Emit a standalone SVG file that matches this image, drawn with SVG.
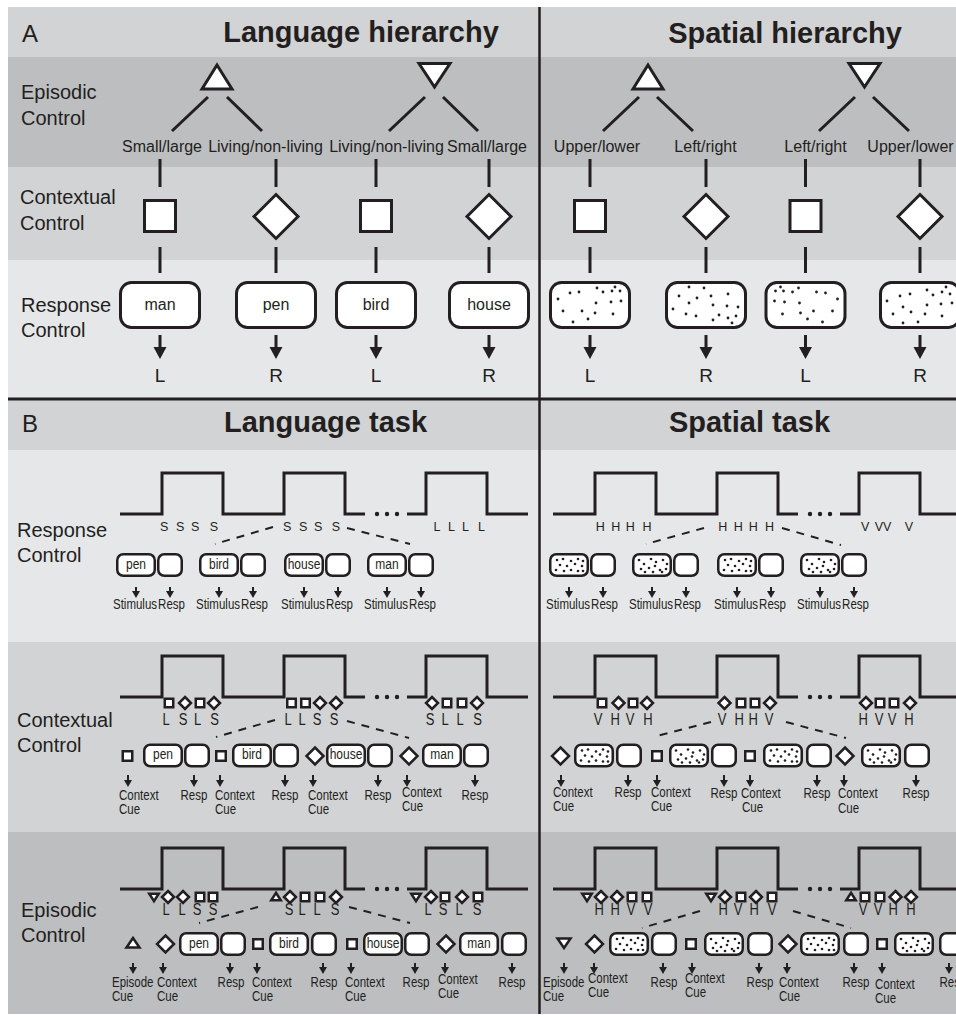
<svg xmlns="http://www.w3.org/2000/svg" width="956" height="1018" viewBox="0 0 956 1018">
<style>
.f{font-family:"Liberation Sans",Arial,Helvetica,sans-serif;fill:#231f20}
.ti{font-size:29px;font-weight:bold;text-anchor:middle}
.pl{font-size:24px}
.rl{font-size:20px}
.cat{font-size:16px;text-anchor:middle}
.lr{font-size:19px;text-anchor:middle}
.wl{font-size:12.5px;text-anchor:middle}
.cl{font-size:13px;text-anchor:middle}
.bt{font-size:12px;text-anchor:middle}
.sl{font-size:11.5px}
.slm{font-size:11.5px;text-anchor:middle}
.shp{fill:#fff;stroke:#231f20;stroke-width:3}
.bb{fill:#fff;stroke:#231f20;stroke-width:2.5}
.ln{fill:none;stroke:#231f20;stroke-width:3}
.as{fill:none;stroke:#231f20;stroke-width:2}
.ds{fill:none;stroke:#231f20;stroke-width:2;stroke-dasharray:8 7}
.dk{fill:#231f20}
.bL{fill:#e6e7e8}.bM{fill:#d1d3d4}.bD{fill:#bcbec0}
</style>
<defs>
<marker id="mL" markerUnits="userSpaceOnUse" markerWidth="12" markerHeight="13" refX="0" refY="6.5" orient="auto" overflow="visible"><path d="M0,0 L12,6.5 L0,13 Z" fill="#231f20"/></marker>
<marker id="mS" markerUnits="userSpaceOnUse" markerWidth="7" markerHeight="8" refX="0" refY="4" orient="auto" overflow="visible"><path d="M0,0 L7,4 L0,8 Z" fill="#231f20"/></marker>
<path id="diA" d="M0,-22 L22,0 L0,22 L-22,0 Z"/>
<rect id="sqA" x="-15.5" y="-15.5" width="31" height="31"/>
<rect id="boxA" x="-39.5" y="-22.5" width="79" height="45" rx="11"/>
<rect id="sqS" x="-4.25" y="-4.25" width="8.5" height="8.5"/>
<path id="diS" d="M0,-6 L6,0 L0,6 L-6,0 Z"/>
<path id="tdS" d="M-4.75,-3.2 L4.75,-3.2 L0,4.2 Z"/>
<path id="tuS" d="M0,-4.2 L4.75,3.2 L-4.75,3.2 Z"/>
<rect id="sqM" x="-4.75" y="-4.75" width="9.5" height="9.5"/>
<path id="diM" d="M0,-8.5 L8.5,0 L0,8.5 L-8.5,0 Z"/>
<path id="tuM" d="M0,-5 L6.5,4.5 L-6.5,4.5 Z"/>
<path id="tdM" d="M-6.5,-4.5 L6.5,-4.5 L0,5 Z"/>
<rect id="stB" x="1.25" y="1.25" width="37.5" height="21.5" rx="6"/>
<rect id="rsB" x="1.25" y="1.25" width="23.5" height="21.5" rx="6"/>
<g id="wave"><path class="ln" d="M0,41 H42 V0 H103 V41 H164 V0 H225 V41 H245 M287,41 H306 V0 H367 V41 H408"/><circle class="dk" cx="257" cy="41" r="2.2"/><circle class="dk" cx="267" cy="41" r="2.2"/><circle class="dk" cx="277" cy="41" r="2.2"/></g>
<g id="dA1" class="dk"><circle cx="66" cy="6" r="1.4"/><circle cx="48" cy="7" r="1.4"/><circle cx="54" cy="11" r="1.4"/><circle cx="63" cy="10" r="1.4"/><circle cx="71" cy="10" r="1.4"/><circle cx="21" cy="12" r="1.4"/><circle cx="30" cy="11" r="1.4"/><circle cx="9" cy="18" r="1.4"/><circle cx="47" cy="22" r="1.4"/><circle cx="62" cy="21" r="1.4"/><circle cx="72" cy="20" r="1.4"/><circle cx="14" cy="30" r="1.4"/><circle cx="33" cy="30" r="1.4"/><circle cx="46" cy="32" r="1.4"/><circle cx="64" cy="33" r="1.4"/><circle cx="24" cy="41" r="1.4"/><circle cx="39" cy="38" r="1.4"/></g>
<g id="dA2" class="dk"><circle cx="24" cy="6" r="1.4"/><circle cx="39" cy="7" r="1.4"/><circle cx="14" cy="15" r="1.4"/><circle cx="32" cy="17" r="1.4"/><circle cx="46" cy="15" r="1.4"/><circle cx="63" cy="13" r="1.4"/><circle cx="24" cy="22" r="1.4"/><circle cx="48" cy="24" r="1.4"/><circle cx="62" cy="25" r="1.4"/><circle cx="73" cy="26" r="1.4"/><circle cx="8" cy="28" r="1.4"/><circle cx="21" cy="33" r="1.4"/><circle cx="31" cy="35" r="1.4"/><circle cx="54" cy="34" r="1.4"/><circle cx="63" cy="37" r="1.4"/><circle cx="48" cy="39" r="1.4"/><circle cx="67" cy="42" r="1.4"/><circle cx="71" cy="35" r="1.4"/></g>
<g id="dB1" class="dk"><circle cx="8" cy="7" r="1.3"/><circle cx="14" cy="6" r="1.3"/><circle cx="22" cy="8" r="1.3"/><circle cx="29" cy="6" r="1.3"/><circle cx="34" cy="8" r="1.3"/><circle cx="11" cy="12" r="1.3"/><circle cx="18" cy="13" r="1.3"/><circle cx="26" cy="11" r="1.3"/><circle cx="33" cy="13" r="1.3"/><circle cx="7" cy="17" r="1.3"/><circle cx="15" cy="18" r="1.3"/><circle cx="22" cy="17" r="1.3"/><circle cx="29" cy="18" r="1.3"/><circle cx="34" cy="18" r="1.3"/></g>
<g id="dB2" class="dk"><circle cx="7" cy="7" r="1.3"/><circle cx="12" cy="11" r="1.3"/><circle cx="19" cy="6" r="1.3"/><circle cx="24" cy="9" r="1.3"/><circle cx="31" cy="7" r="1.3"/><circle cx="35" cy="11" r="1.3"/><circle cx="9" cy="16" r="1.3"/><circle cx="17" cy="15" r="1.3"/><circle cx="23" cy="13" r="1.3"/><circle cx="28" cy="17" r="1.3"/><circle cx="34" cy="16" r="1.3"/><circle cx="13" cy="19" r="1.3"/><circle cx="21" cy="19" r="1.3"/><circle cx="30" cy="19" r="1.3"/></g>
</defs>

<g id="background">
<rect x="8" y="7" width="948" height="50" class="bM"/>
<rect x="8" y="57" width="948" height="110" class="bD"/>
<rect x="8" y="167" width="948" height="93" class="bM"/>
<rect x="8" y="260" width="948" height="139" class="bL"/>
<rect x="8" y="399" width="948" height="51" class="bM"/>
<rect x="8" y="450" width="948" height="192" class="bL"/>
<rect x="8" y="642" width="948" height="190" class="bM"/>
<rect x="8" y="832" width="948" height="182" class="bD"/>
<line x1="8" y1="399" x2="956" y2="399" stroke="#231f20" stroke-width="3"/>
<line x1="539.5" y1="7" x2="539.5" y2="1014" stroke="#231f20" stroke-width="2.5"/>
</g>

<g id="labels">
<text class="f pl" x="22" y="42">A</text>
<text class="f ti" x="361" y="42">Language hierarchy</text>
<text class="f ti" x="785" y="43">Spatial hierarchy</text>
<text class="f pl" x="22" y="432">B</text>
<text class="f ti" x="325.5" y="432">Language task</text>
<text class="f ti" x="749.5" y="432">Spatial task</text>
<text class="f rl"><tspan x="21" y="99">Episodic</tspan><tspan x="21" y="125">Control</tspan></text>
<text class="f rl"><tspan x="20" y="204">Contextual</tspan><tspan x="20" y="230">Control</tspan></text>
<text class="f rl"><tspan x="21" y="312">Response</tspan><tspan x="21" y="337">Control</tspan></text>
<text class="f rl"><tspan x="17" y="537">Response</tspan><tspan x="17" y="562">Control</tspan></text>
<text class="f rl"><tspan x="17" y="727">Contextual</tspan><tspan x="17" y="752">Control</tspan></text>
<text class="f rl"><tspan x="21" y="917">Episodic</tspan><tspan x="21" y="942">Control</tspan></text>
</g>

<g id="A-connectors">
<path class="ln" d="M208,97 L172,131 M227,97 L262,131 M425,97 L389,131 M443,97 L478,131 M639,97 L603,131 M657,97 L693,131 M855,97 L819,131 M873,97 L909,131"/>
<path class="ln" d="M160,159 V187 M276,159 V187 M376,159 V187 M489,159 V187 M590,159 V187 M706,159 V187 M805.5,159 V187 M920,159 V187"/>
<path class="ln" d="M160,247 V273 M276,247 V273 M376,247 V273 M489,247 V273 M590,247 V273 M706,247 V273 M805.5,247 V273 M920,247 V273"/>
<path class="ln" d="M160,335 V347" marker-end="url(#mL)"/>
<path class="ln" d="M276,335 V347" marker-end="url(#mL)"/>
<path class="ln" d="M376,335 V347" marker-end="url(#mL)"/>
<path class="ln" d="M489,335 V347" marker-end="url(#mL)"/>
<path class="ln" d="M590,335 V347" marker-end="url(#mL)"/>
<path class="ln" d="M706,335 V347" marker-end="url(#mL)"/>
<path class="ln" d="M805.5,335 V347" marker-end="url(#mL)"/>
<path class="ln" d="M920,335 V347" marker-end="url(#mL)"/>
</g>

<g id="A-language">
<g id="A-lang-episode-up"><polygon class="shp" points="217,65 202,89 232,89"/></g>
<g id="A-lang-episode-down"><polygon class="shp" points="419,63.5 450,63.5 434.5,87"/></g>
<g id="A-lang-rules">
<text class="f cat" x="162" y="152">Small/large</text>
<text class="f cat" x="265.5" y="152">Living/non-living</text>
<text class="f cat" x="386.5" y="152">Living/non-living</text>
<text class="f cat" x="487" y="152">Small/large</text>
</g>
<g id="A-lang-ctx-1"><use href="#sqA" x="160" y="216" class="shp"/></g>
<g id="A-lang-ctx-2"><use href="#diA" x="276" y="216.5" class="shp"/></g>
<g id="A-lang-ctx-3"><use href="#sqA" x="376" y="216" class="shp"/></g>
<g id="A-lang-ctx-4"><use href="#diA" x="489" y="216.5" class="shp"/></g>
<g id="A-lang-man"><use href="#boxA" x="160" y="305" class="shp"/><text class="f cat" x="160" y="310">man</text></g>
<g id="A-lang-pen"><use href="#boxA" x="276" y="305" class="shp"/><text class="f cat" x="276" y="310">pen</text></g>
<g id="A-lang-bird"><use href="#boxA" x="376" y="305" class="shp"/><text class="f cat" x="376" y="310">bird</text></g>
<g id="A-lang-house"><use href="#boxA" x="489" y="305" class="shp"/><text class="f cat" x="489" y="310">house</text></g>
<g id="A-lang-resp">
<text class="f lr" x="160" y="382">L</text><text class="f lr" x="276" y="382">R</text><text class="f lr" x="376" y="382">L</text><text class="f lr" x="489" y="382">R</text>
</g>
</g>

<g id="A-spatial">
<g id="A-sp-episode-up"><polygon class="shp" points="648,65 633,89 663,89"/></g>
<g id="A-sp-episode-down"><polygon class="shp" points="849,63.5 880,63.5 864.5,87"/></g>
<g id="A-sp-rules">
<text class="f cat" x="597" y="152">Upper/lower</text>
<text class="f cat" x="705.5" y="152">Left/right</text>
<text class="f cat" x="815.5" y="152">Left/right</text>
<text class="f cat" x="910.5" y="152">Upper/lower</text>
</g>
<g id="A-sp-ctx-1"><use href="#sqA" x="590" y="216" class="shp"/></g>
<g id="A-sp-ctx-2"><use href="#diA" x="706" y="216.5" class="shp"/></g>
<g id="A-sp-ctx-3"><use href="#sqA" x="805.5" y="216" class="shp"/></g>
<g id="A-sp-ctx-4"><use href="#diA" x="920" y="216.5" class="shp"/></g>
<g id="A-sp-stim-1"><use href="#boxA" x="590" y="305" class="shp"/><use href="#dA1" x="549" y="281"/></g>
<g id="A-sp-stim-2"><use href="#boxA" x="706" y="305" class="shp"/><use href="#dA2" x="665" y="281"/></g>
<g id="A-sp-stim-3"><use href="#boxA" x="805.5" y="305" class="shp"/><use href="#dA1" transform="translate(846.5,281) scale(-1,1)"/></g>
<g id="A-sp-stim-4"><use href="#boxA" x="920" y="305" class="shp"/><use href="#dA2" transform="translate(879,329) scale(1,-1)"/></g>
<g id="A-sp-resp">
<text class="f lr" x="590" y="382">L</text><text class="f lr" x="706" y="382">R</text><text class="f lr" x="805.5" y="382">L</text><text class="f lr" x="920" y="382">R</text>
</g>
</g>

<g id="B-connectors">
<path class="ds" d="M273,527 L215,544 M347,528 L410,544 M704,528 L646,544 M782,528 L841,545"/>
<path class="ds" d="M275,720 L216,737 M347,721 L409,738 M711,722 L653,737 M786,722 L846,738"/>
<path class="ds" d="M258,907 L199,923 M349,907 L410,923 M700,911 L642,928 M793,911 L851,928"/>
<g id="B-resp-arrows">
<path class="as" d="M136,587 V591" marker-end="url(#mS)"/><path class="as" d="M170,587 V591" marker-end="url(#mS)"/>
<path class="as" d="M219,587 V591" marker-end="url(#mS)"/><path class="as" d="M253,587 V591" marker-end="url(#mS)"/>
<path class="as" d="M304,587 V591" marker-end="url(#mS)"/><path class="as" d="M338,587 V591" marker-end="url(#mS)"/>
<path class="as" d="M387,587 V591" marker-end="url(#mS)"/><path class="as" d="M421,587 V591" marker-end="url(#mS)"/>
<path class="as" d="M569,587 V591" marker-end="url(#mS)"/><path class="as" d="M603,587 V591" marker-end="url(#mS)"/>
<path class="as" d="M652,587 V591" marker-end="url(#mS)"/><path class="as" d="M686,587 V591" marker-end="url(#mS)"/>
<path class="as" d="M737,587 V591" marker-end="url(#mS)"/><path class="as" d="M771,587 V591" marker-end="url(#mS)"/>
<path class="as" d="M820,587 V591" marker-end="url(#mS)"/><path class="as" d="M854,587 V591" marker-end="url(#mS)"/>
</g>
<g id="B-ctx-arrows">
<path class="as" d="M128,775 V780" marker-end="url(#mS)"/><path class="as" d="M194,775 V780" marker-end="url(#mS)"/>
<path class="as" d="M220,775 V780" marker-end="url(#mS)"/><path class="as" d="M285,775 V780" marker-end="url(#mS)"/>
<path class="as" d="M313,775 V780" marker-end="url(#mS)"/><path class="as" d="M378,775 V780" marker-end="url(#mS)"/>
<path class="as" d="M407,775 V780" marker-end="url(#mS)"/><path class="as" d="M475,775 V780" marker-end="url(#mS)"/>
<path class="as" d="M561,775 V780" marker-end="url(#mS)"/><path class="as" d="M628,775 V780" marker-end="url(#mS)"/>
<path class="as" d="M657,775 V780" marker-end="url(#mS)"/><path class="as" d="M724,775 V780" marker-end="url(#mS)"/>
<path class="as" d="M750,775 V780" marker-end="url(#mS)"/><path class="as" d="M817,775 V780" marker-end="url(#mS)"/>
<path class="as" d="M844,775 V780" marker-end="url(#mS)"/><path class="as" d="M916,775 V780" marker-end="url(#mS)"/>
</g>
<g id="B-epi-arrows">
<path class="as" d="M133,963 V967" marker-end="url(#mS)"/><path class="as" d="M163,963 V967" marker-end="url(#mS)"/>
<path class="as" d="M230,963 V967" marker-end="url(#mS)"/><path class="as" d="M257,963 V967" marker-end="url(#mS)"/>
<path class="as" d="M323,963 V967" marker-end="url(#mS)"/><path class="as" d="M351,963 V967" marker-end="url(#mS)"/>
<path class="as" d="M415,963 V967" marker-end="url(#mS)"/><path class="as" d="M445,963 V967" marker-end="url(#mS)"/>
<path class="as" d="M512,963 V967" marker-end="url(#mS)"/>
<path class="as" d="M564,963 V967" marker-end="url(#mS)"/><path class="as" d="M594,963 V967" marker-end="url(#mS)"/>
<path class="as" d="M663,963 V967" marker-end="url(#mS)"/><path class="as" d="M692,963 V967" marker-end="url(#mS)"/>
<path class="as" d="M759,963 V967" marker-end="url(#mS)"/><path class="as" d="M787,963 V967" marker-end="url(#mS)"/>
<path class="as" d="M854,963 V967" marker-end="url(#mS)"/><path class="as" d="M882,963 V967" marker-end="url(#mS)"/>
<path class="as" d="M949,963 V967" marker-end="url(#mS)"/>
</g>
</g>

<g id="B-language-response">
<g id="Bl-r-wave"><use href="#wave" x="120" y="473"/>
<text class="f wl" y="531"><tspan x="166">S</tspan> <tspan x="182">S</tspan> <tspan x="197">S</tspan> <tspan x="214">S</tspan></text>
<text class="f wl" y="531"><tspan x="289">S</tspan> <tspan x="305">S</tspan> <tspan x="320">S</tspan> <tspan x="336">S</tspan></text>
<text class="f wl" y="531"><tspan x="438.5">L</tspan> <tspan x="453">L</tspan> <tspan x="467">L</tspan> <tspan x="481.5">L</tspan></text>
</g>
<g id="Bl-r-t1"><use href="#stB" x="116" y="553" class="bb"/><use href="#rsB" x="157" y="553" class="bb"/><text class="f bt" x="136" y="569" transform="matrix(1,0,0,1.15,0,-85.35)">pen</text></g>
<g id="Bl-r-t2"><use href="#stB" x="199" y="553" class="bb"/><use href="#rsB" x="240" y="553" class="bb"/><text class="f bt" x="219" y="569" transform="matrix(1,0,0,1.15,0,-85.35)">bird</text></g>
<g id="Bl-r-t3"><use href="#stB" x="284" y="553" class="bb"/><use href="#rsB" x="325" y="553" class="bb"/><text class="f bt" x="304" y="569" transform="matrix(1,0,0,1.15,0,-85.35)">house</text></g>
<g id="Bl-r-t4"><use href="#stB" x="367" y="553" class="bb"/><use href="#rsB" x="408" y="553" class="bb"/><text class="f bt" x="387" y="569" transform="matrix(1,0,0,1.15,0,-85.35)">man</text></g>
<g id="Bl-r-labels" transform="matrix(1,0,0,1.2,0,-121.8)">
<text class="f slm" x="135" y="609">Stimulus</text><text class="f slm" x="171.5" y="609">Resp</text>
<text class="f slm" x="218" y="609">Stimulus</text><text class="f slm" x="254.5" y="609">Resp</text>
<text class="f slm" x="303" y="609">Stimulus</text><text class="f slm" x="339.5" y="609">Resp</text>
<text class="f slm" x="386" y="609">Stimulus</text><text class="f slm" x="422.5" y="609">Resp</text>
</g>
</g>

<g id="B-spatial-response">
<g id="Bs-r-wave"><use href="#wave" x="553" y="473"/>
<text class="f wl" y="531"><tspan x="602">H</tspan> <tspan x="617.5">H</tspan> <tspan x="632">H</tspan> <tspan x="647">H</tspan></text>
<text class="f wl" y="531"><tspan x="724.5">H</tspan> <tspan x="740">H</tspan> <tspan x="755">H</tspan> <tspan x="769.5">H</tspan></text>
<text class="f wl" y="531"><tspan x="867">V</tspan> <tspan x="879">V</tspan><tspan x="889">V</tspan> <tspan x="909">V</tspan></text>
</g>
<g id="Bs-r-t1"><use href="#stB" x="549" y="553" class="bb"/><use href="#dB1" x="549" y="553"/><use href="#rsB" x="590" y="553" class="bb"/></g>
<g id="Bs-r-t2"><use href="#stB" x="632" y="553" class="bb"/><use href="#dB2" x="632" y="553"/><use href="#rsB" x="673" y="553" class="bb"/></g>
<g id="Bs-r-t3"><use href="#stB" x="717" y="553" class="bb"/><use href="#dB1" x="717" y="553"/><use href="#rsB" x="758" y="553" class="bb"/></g>
<g id="Bs-r-t4"><use href="#stB" x="800" y="553" class="bb"/><use href="#dB2" x="800" y="553"/><use href="#rsB" x="841" y="553" class="bb"/></g>
<g id="Bs-r-labels" transform="matrix(1,0,0,1.2,0,-121.8)">
<text class="f slm" x="568" y="609">Stimulus</text><text class="f slm" x="604.5" y="609">Resp</text>
<text class="f slm" x="651" y="609">Stimulus</text><text class="f slm" x="687.5" y="609">Resp</text>
<text class="f slm" x="736" y="609">Stimulus</text><text class="f slm" x="772.5" y="609">Resp</text>
<text class="f slm" x="819" y="609">Stimulus</text><text class="f slm" x="855.5" y="609">Resp</text>
</g>
</g>

<g id="B-language-context">
<g id="Bl-c-wave"><use href="#wave" x="120" y="656"/>
<use href="#sqS" x="169" y="703" class="bb"/><use href="#diS" x="185" y="703" class="bb"/><use href="#sqS" x="200" y="703" class="bb"/><use href="#diS" x="214" y="703" class="bb"/>
<use href="#sqS" x="291.5" y="703" class="bb"/><use href="#sqS" x="305.5" y="703" class="bb"/><use href="#diS" x="320" y="703" class="bb"/><use href="#diS" x="336" y="703" class="bb"/>
<use href="#diS" x="432" y="703" class="bb"/><use href="#sqS" x="447" y="703" class="bb"/><use href="#sqS" x="462" y="703" class="bb"/><use href="#diS" x="477" y="703" class="bb"/>
<g transform="matrix(1,0,0,1.2,0,-145)">
<text class="f cl" y="725"><tspan x="168">L</tspan> <tspan x="185">S</tspan> <tspan x="199.5">L</tspan> <tspan x="214.5">S</tspan></text>
<text class="f cl" y="725"><tspan x="290">L</tspan> <tspan x="304">L</tspan> <tspan x="319">S</tspan> <tspan x="334">S</tspan></text>
<text class="f cl" y="725"><tspan x="432">S</tspan> <tspan x="447">L</tspan> <tspan x="462">L</tspan> <tspan x="477.5">S</tspan></text>
</g>
</g>
<g id="Bl-c-t1"><use href="#sqM" x="127.5" y="756" class="bb"/><use href="#stB" x="143" y="743.5" class="bb"/><use href="#rsB" x="184" y="743.5" class="bb"/><text class="f bt" x="163" y="759.5" transform="matrix(1,0,0,1.15,0,-113.925)">pen</text></g>
<g id="Bl-c-t2"><use href="#sqM" x="221" y="756" class="bb"/><use href="#stB" x="232" y="743.5" class="bb"/><use href="#rsB" x="273" y="743.5" class="bb"/><text class="f bt" x="252" y="759.5" transform="matrix(1,0,0,1.15,0,-113.925)">bird</text></g>
<g id="Bl-c-t3"><use href="#diM" x="315" y="756" class="bb"/><use href="#stB" x="326" y="743.5" class="bb"/><use href="#rsB" x="367" y="743.5" class="bb"/><text class="f bt" x="346" y="759.5" transform="matrix(1,0,0,1.15,0,-113.925)">house</text></g>
<g id="Bl-c-t4"><use href="#diM" x="409" y="756" class="bb"/><use href="#stB" x="422" y="743.5" class="bb"/><use href="#rsB" x="463" y="743.5" class="bb"/><text class="f bt" x="442" y="759.5" transform="matrix(1,0,0,1.15,0,-113.925)">man</text></g>
<g id="Bl-c-labels" transform="matrix(1,0,0,1.2,0,-160)">
<text class="f sl"><tspan x="119" y="800">Context</tspan><tspan x="119" y="811.67">Cue</tspan></text>
<text class="f sl"><tspan x="215" y="800">Context</tspan><tspan x="215" y="811.67">Cue</tspan></text>
<text class="f sl"><tspan x="308" y="800">Context</tspan><tspan x="308" y="811.67">Cue</tspan></text>
<text class="f sl"><tspan x="402" y="797.5">Context</tspan><tspan x="402" y="809.5">Cue</tspan></text>
<text class="f slm" x="194" y="800">Resp</text><text class="f slm" x="285" y="800">Resp</text><text class="f slm" x="378" y="800">Resp</text><text class="f slm" x="475" y="800">Resp</text>
</g>
</g>

<g id="B-spatial-context">
<g id="Bs-c-wave"><use href="#wave" x="553" y="656"/>
<use href="#sqS" x="602" y="703" class="bb"/><use href="#diS" x="618.5" y="703" class="bb"/><use href="#sqS" x="633" y="703" class="bb"/><use href="#diS" x="647" y="703" class="bb"/>
<use href="#diS" x="724.5" y="703" class="bb"/><use href="#sqS" x="741" y="703" class="bb"/><use href="#sqS" x="755" y="703" class="bb"/><use href="#diS" x="770" y="703" class="bb"/>
<use href="#diS" x="866" y="703" class="bb"/><use href="#sqS" x="880" y="703" class="bb"/><use href="#sqS" x="894" y="703" class="bb"/><use href="#diS" x="910" y="703" class="bb"/>
<g transform="matrix(1,0,0,1.2,0,-145)">
<text class="f cl" y="725"><tspan x="600">V</tspan> <tspan x="617">H</tspan> <tspan x="632">V</tspan> <tspan x="648">H</tspan></text>
<text class="f cl" y="725"><tspan x="724">V</tspan> <tspan x="741">H</tspan> <tspan x="755">H</tspan> <tspan x="769">V</tspan></text>
<text class="f cl" y="725"><tspan x="865">H</tspan> <tspan x="881">V</tspan> <tspan x="894">V</tspan> <tspan x="909">H</tspan></text>
</g>
</g>
<g id="Bs-c-t1"><use href="#diM" x="560.5" y="756" class="bb"/><use href="#stB" x="574" y="743.5" class="bb"/><use href="#dB1" x="574" y="743.5"/><use href="#rsB" x="616" y="743.5" class="bb"/></g>
<g id="Bs-c-t2"><use href="#sqM" x="657" y="756" class="bb"/><use href="#stB" x="669" y="743.5" class="bb"/><use href="#dB2" x="669" y="743.5"/><use href="#rsB" x="711" y="743.5" class="bb"/></g>
<g id="Bs-c-t3"><use href="#sqM" x="750" y="756" class="bb"/><use href="#stB" x="763" y="743.5" class="bb"/><use href="#dB1" x="763" y="743.5"/><use href="#rsB" x="806" y="743.5" class="bb"/></g>
<g id="Bs-c-t4"><use href="#diM" x="845" y="756" class="bb"/><use href="#stB" x="861" y="743.5" class="bb"/><use href="#dB2" x="861" y="743.5"/><use href="#rsB" x="904" y="743.5" class="bb"/></g>
<g id="Bs-c-labels" transform="matrix(1,0,0,1.2,0,-159.4)">
<text class="f sl"><tspan x="553" y="797">Context</tspan><tspan x="553" y="808.67">Cue</tspan></text>
<text class="f sl"><tspan x="651" y="797">Context</tspan><tspan x="651" y="808.67">Cue</tspan></text>
<text class="f sl"><tspan x="741" y="797.83">Context</tspan><tspan x="742" y="809.5">Cue</tspan></text>
<text class="f sl"><tspan x="838" y="798.2">Context</tspan><tspan x="838" y="810.2">Cue</tspan></text>
<text class="f slm" x="628" y="797">Resp</text><text class="f slm" x="724" y="797.83">Resp</text><text class="f slm" x="817" y="797.83">Resp</text><text class="f slm" x="916" y="797.83">Resp</text>
</g>
</g>

<g id="B-language-episode">
<g id="Bl-e-wave"><use href="#wave" x="120" y="848"/>
<use href="#tdS" x="154" y="897" class="bb"/><use href="#diS" x="168" y="897" class="bb"/><use href="#diS" x="183" y="897" class="bb"/><use href="#sqS" x="200" y="897" class="bb"/><use href="#sqS" x="213" y="897" class="bb"/>
<use href="#tuS" x="276" y="897" class="bb"/><use href="#diS" x="290" y="897" class="bb"/><use href="#sqS" x="305" y="897" class="bb"/><use href="#sqS" x="320" y="897" class="bb"/><use href="#diS" x="336" y="897" class="bb"/>
<use href="#tdS" x="416" y="897" class="bb"/><use href="#diS" x="431" y="897" class="bb"/><use href="#sqS" x="445" y="897" class="bb"/><use href="#diS" x="462" y="897" class="bb"/><use href="#sqS" x="478" y="897" class="bb"/>
<g transform="matrix(1,0,0,1.2,0,-183)">
<text class="f cl" y="915"><tspan x="168">L</tspan> <tspan x="184">L</tspan> <tspan x="199">S</tspan> <tspan x="213">S</tspan></text>
<text class="f cl" y="915"><tspan x="291">S</tspan> <tspan x="304">L</tspan> <tspan x="319">L</tspan> <tspan x="335">S</tspan></text>
<text class="f cl" y="915"><tspan x="430">L</tspan> <tspan x="445">S</tspan> <tspan x="461">L</tspan> <tspan x="477">S</tspan></text>
</g>
</g>
<g id="Bl-e-t0"><use href="#tuM" x="133" y="943" class="bb"/></g>
<g id="Bl-e-t1"><use href="#diM" x="165.5" y="944" class="bb"/><use href="#stB" x="179" y="932" class="bb"/><use href="#rsB" x="220" y="932" class="bb"/><text class="f bt" x="199" y="948" transform="matrix(1,0,0,1.15,0,-142.2)">pen</text></g>
<g id="Bl-e-t2"><use href="#sqM" x="258" y="944" class="bb"/><use href="#stB" x="269" y="932" class="bb"/><use href="#rsB" x="311" y="932" class="bb"/><text class="f bt" x="289" y="948" transform="matrix(1,0,0,1.15,0,-142.2)">bird</text></g>
<g id="Bl-e-t3"><use href="#sqM" x="352" y="944" class="bb"/><use href="#stB" x="363" y="932" class="bb"/><use href="#rsB" x="404" y="932" class="bb"/><text class="f bt" x="383" y="948" transform="matrix(1,0,0,1.15,0,-142.2)">house</text></g>
<g id="Bl-e-t4"><use href="#diM" x="446" y="944" class="bb"/><use href="#stB" x="459" y="932" class="bb"/><use href="#rsB" x="501" y="932" class="bb"/><text class="f bt" x="479" y="948" transform="matrix(1,0,0,1.15,0,-142.2)">man</text></g>
<g id="Bl-e-labels" transform="matrix(1,0,0,1.2,0,-197.4)">
<text class="f sl"><tspan x="112" y="987">Episode</tspan><tspan x="112" y="998.67">Cue</tspan></text>
<text class="f sl"><tspan x="157" y="987">Context</tspan><tspan x="157" y="998.67">Cue</tspan></text>
<text class="f sl"><tspan x="252" y="987">Context</tspan><tspan x="252" y="998.67">Cue</tspan></text>
<text class="f sl"><tspan x="345" y="987">Context</tspan><tspan x="345" y="998.67">Cue</tspan></text>
<text class="f sl"><tspan x="438" y="984.5">Context</tspan><tspan x="438" y="996.5">Cue</tspan></text>
<text class="f slm" x="231" y="987">Resp</text><text class="f slm" x="324" y="987">Resp</text><text class="f slm" x="416" y="987">Resp</text><text class="f slm" x="512" y="987">Resp</text>
</g>
</g>

<g id="B-spatial-episode">
<g id="Bs-e-wave"><use href="#wave" x="553" y="848"/>
<use href="#tdS" x="587" y="897" class="bb"/><use href="#diS" x="601" y="897" class="bb"/><use href="#diS" x="617" y="897" class="bb"/><use href="#sqS" x="632" y="897" class="bb"/><use href="#sqS" x="647" y="897" class="bb"/>
<use href="#tdS" x="711" y="897" class="bb"/><use href="#diS" x="725" y="897" class="bb"/><use href="#sqS" x="741" y="897" class="bb"/><use href="#diS" x="756" y="897" class="bb"/><use href="#sqS" x="772" y="897" class="bb"/>
<use href="#tuS" x="851" y="897" class="bb"/><use href="#sqS" x="865" y="897" class="bb"/><use href="#sqS" x="880" y="897" class="bb"/><use href="#diS" x="895.5" y="897" class="bb"/><use href="#diS" x="911" y="897" class="bb"/>
<g transform="matrix(1,0,0,1.2,0,-183)">
<text class="f cl" y="915"><tspan x="601">H</tspan> <tspan x="617">H</tspan> <tspan x="633">V</tspan> <tspan x="648">V</tspan></text>
<text class="f cl" y="915"><tspan x="725">H</tspan> <tspan x="740">V</tspan> <tspan x="756">H</tspan> <tspan x="772">V</tspan></text>
<text class="f cl" y="915"><tspan x="865">V</tspan> <tspan x="880">V</tspan> <tspan x="895">H</tspan> <tspan x="911">H</tspan></text>
</g>
</g>
<g id="Bs-e-t0"><use href="#tdM" x="564" y="943" class="bb"/></g>
<g id="Bs-e-t1"><use href="#diM" x="594.5" y="944" class="bb"/><use href="#stB" x="609" y="932" class="bb"/><use href="#dB1" x="609" y="932"/><use href="#rsB" x="651" y="932" class="bb"/></g>
<g id="Bs-e-t2"><use href="#sqM" x="691" y="944" class="bb"/><use href="#stB" x="704" y="932" class="bb"/><use href="#dB2" x="704" y="932"/><use href="#rsB" x="747" y="932" class="bb"/></g>
<g id="Bs-e-t3"><use href="#diM" x="788" y="944" class="bb"/><use href="#stB" x="800" y="932" class="bb"/><use href="#dB1" x="800" y="932"/><use href="#rsB" x="843" y="932" class="bb"/></g>
<g id="Bs-e-t4"><use href="#sqM" x="882" y="944" class="bb"/><use href="#stB" x="894" y="932" class="bb"/><use href="#dB2" x="894" y="932"/><use href="#rsB" x="939" y="932" class="bb"/></g>
<g id="Bs-e-labels" transform="matrix(1,0,0,1.2,0,-197.4)">
<text class="f sl"><tspan x="543" y="987">Episode</tspan><tspan x="543" y="998.67">Cue</tspan></text>
<text class="f sl"><tspan x="588" y="983.67">Context</tspan><tspan x="588" y="995.33">Cue</tspan></text>
<text class="f sl"><tspan x="685" y="983.67">Context</tspan><tspan x="685" y="995.33">Cue</tspan></text>
<text class="f sl"><tspan x="779" y="987">Context</tspan><tspan x="779" y="998.67">Cue</tspan></text>
<text class="f sl"><tspan x="875" y="988.67">Context</tspan><tspan x="875" y="1000.33">Cue</tspan></text>
<text class="f slm" x="664" y="987">Resp</text><text class="f slm" x="760" y="987">Resp</text><text class="f slm" x="856" y="987">Resp</text><text class="f slm" x="953" y="987">Resp</text>
</g>
</g>
</svg>
